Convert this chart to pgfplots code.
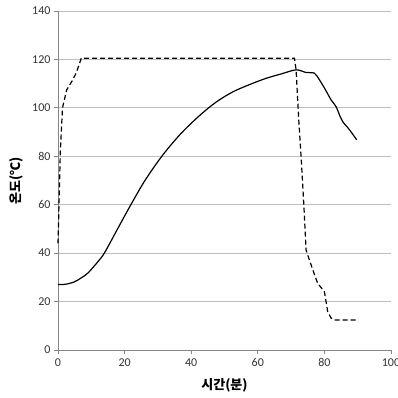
\documentclass[border=0pt]{standalone}
\usepackage{pgfplots}
\pgfplotsset{compat=1.18}
\usepackage{fontspec}
\setmainfont{Carlito}
\newfontfamily\kr{Noto Sans CJK KR}
\definecolor{gridc}{RGB}{190,190,190}
\definecolor{axc}{RGB}{134,134,134}
\begin{document}
\begin{tikzpicture}[x=1pt,y=1pt]
\useasboundingbox (-58pt,-48pt) rectangle (340pt,350pt);
\begin{axis}[
  at={(0,0)}, anchor=south west,
  scale only axis, width=333pt, height=339pt,
  xmin=0, xmax=100, ymin=0, ymax=140,
  xtick={0,20,...,100}, ytick={0,20,...,140},
  axis x line*=bottom, axis y line*=left,
  axis line style={axc, line width=0.8pt, -},
  ymajorgrids, grid style={gridc, line width=0.8pt},
  tick style={axc, line width=0.8pt},
  tick align=outside, major tick length=4pt,
  /pgf/number format/assume math mode=true,
  ticklabel style={font=\fontsize{12}{14}\selectfont, text=black!80},
  xticklabel style={yshift=-1pt},
  clip=false,
]
\addplot[black, line width=1.2pt, dash pattern=on 5pt off 3pt] coordinates {
(0,44) (0.3,60) (0.7,82) (1.35,100) (2.6,107.4) (4.4,111.5) (5.5,114.5) (7,120.5)
(40,120.5) (71,120.5) (71.5,115.7) (72.3,95) (73,79.8) (73.8,60.6) (74.5,41.3)
(75.5,37.2) (76.8,32) (78,27.5) (80,24.1) (81,15.8) (82,13.2) (83,12.4) (90,12.4)
};
\addplot[black, line width=1.2pt, smooth] coordinates {
(0,27) (2.5,27.2) (5,28.2) (7,29.8) (9,31.8) (12,36.5) (14,40.2) (18,50.3) (22,60.3)
(26.2,70.2) (31.5,80.6) (37,89.5) (42.5,96.8) (47.5,102.4) (52.5,106.6)
(57.5,109.6) (62.5,112.2) (67,114) (71.5,115.7) (74.5,114.6) (77,114.3)
(78.5,111.6) (80.3,107.5) (82,103.3) (83.5,100.5) (84.7,96.5) (85.5,94.3)
(87.5,91) (89.7,86.8)
};
\node[rotate=90, font=\kr\bfseries\fontsize{13}{15}\selectfont] at (rel axis cs:-0.125,0.5) {온도(℃)};
\node[font=\kr\bfseries\fontsize{13}{15}\selectfont] at (rel axis cs:0.5,-0.103) {시간(분)};
\end{axis}
\end{tikzpicture}
\end{document}
